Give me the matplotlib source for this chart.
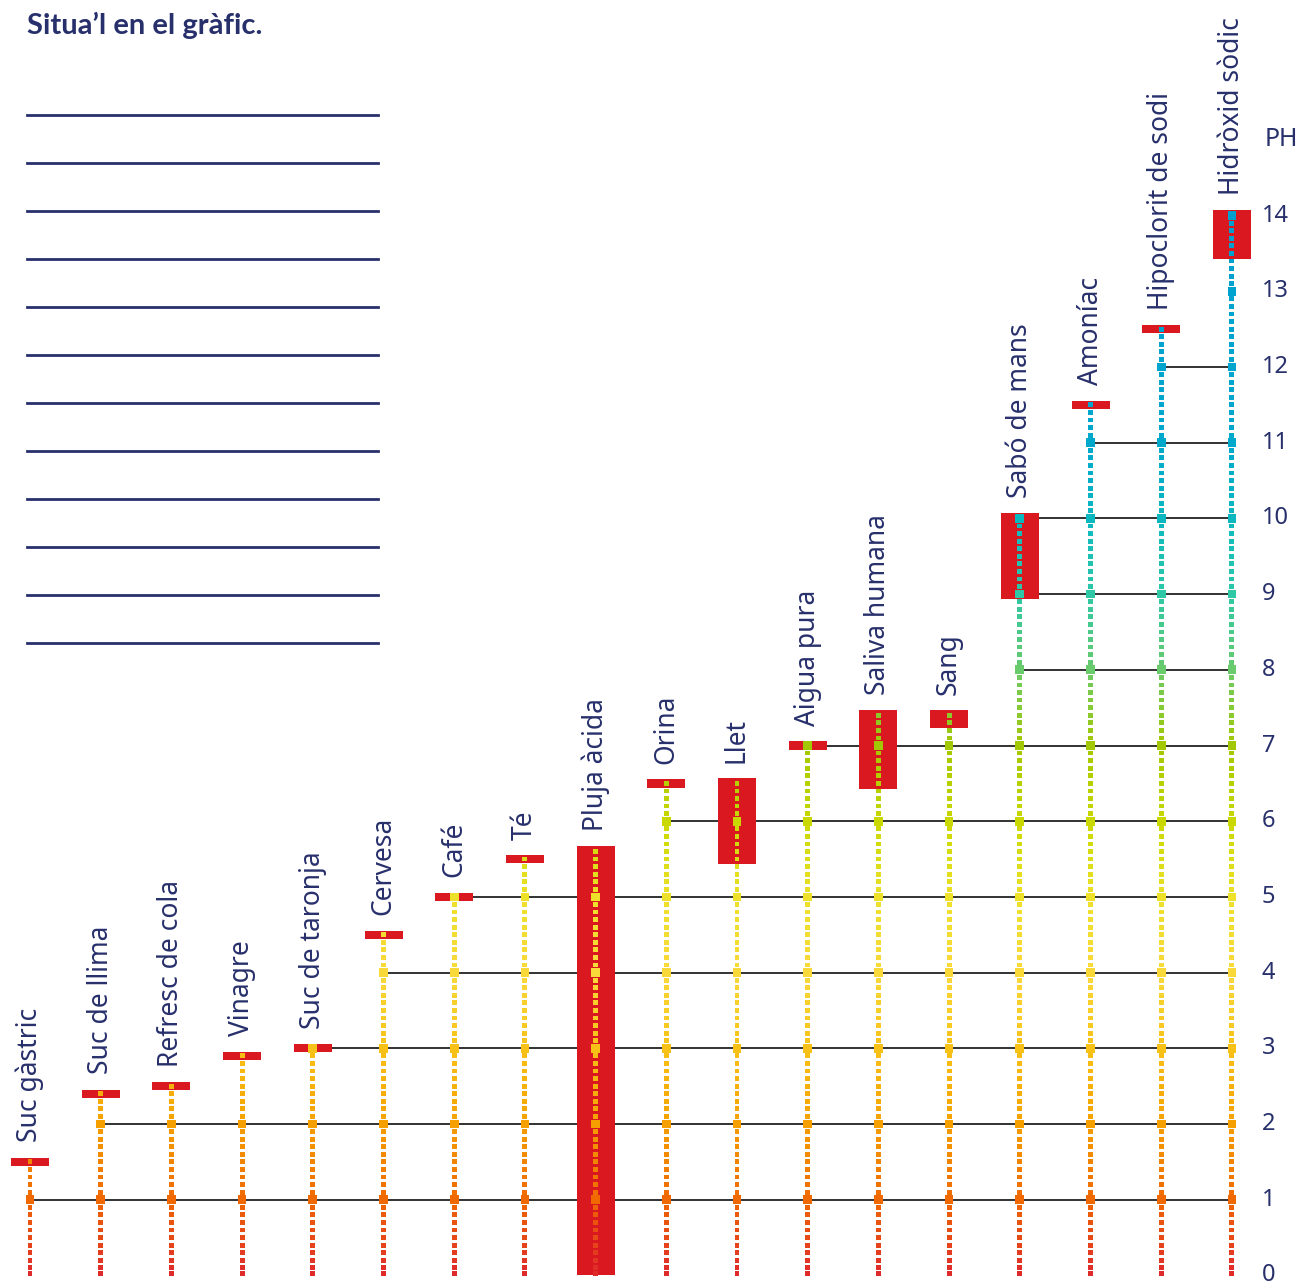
import numpy as np
import matplotlib
matplotlib.use("Agg")
import matplotlib.pyplot as plt
from matplotlib.colors import LinearSegmentedColormap
from matplotlib.patches import Rectangle

# ---------------- data ----------------
substances = ["Suc gàstric", "Suc de llima", "Refresc de cola", "Vinagre",
              "Suc de taronja", "Cervesa", "Café", "Té", "Pluja àcida",
              "Orina", "Llet", "Aigua pura", "Saliva humana", "Sang",
              "Sabó de mans", "Amoníac", "Hipoclorit de sodi", "Hidròxid sòdic"]
ph_min = [1.5, 2.4, 2.5, 2.9, 3.0, 4.5, 5.0, 5.5, 0.0, 6.5, 5.5, 7.0, 6.5, 7.3,
          9.0, 11.5, 12.5, 13.5]
ph_max = [1.5, 2.4, 2.5, 2.9, 3.0, 4.5, 5.0, 5.5, 5.6, 6.5, 6.5, 7.0, 7.4, 7.4,
          10.0, 11.5, 12.5, 14.0]
ph_ticks = list(range(0, 15))
title = "Situa’l en el gràfic."
axis_title = "PH"

# colour scale along the pH axis
scale_ph = [0, 1, 2, 3, 4, 5, 6, 7, 8, 9, 10, 11, 14]
scale_col = ["#e02a2a", "#ef6a00", "#f5a100", "#f7c218", "#f9d93a", "#ede12a",
             "#c9d800", "#a3c800", "#6acb6a", "#2ec8a6", "#0cb8c0", "#00a8cc",
             "#009fd0"]

NAVY = "#27306b"
RED = "#d9181f"
FONT = "Noto Sans"

W, H = 1303, 1285
fig = plt.figure(figsize=(W / 100, H / 100), dpi=100)
ax = fig.add_axes([0, 0, 1, 1])
ax.set_axis_off()

# pixel mapping (layout)
px_per_ph = 75.7
y0_px = 1275.4           # pixel row of pH 0 (from top)
x0_px, dx_px = 30, 70.7  # first column and spacing
ax.set_ylim(-(H - y0_px) / px_per_ph, y0_px / px_per_ph)
ax.set_xlim(-x0_px / dx_px, (W - x0_px) / dx_px)

cmap = LinearSegmentedColormap.from_list(
    "ph", [(p / 14, c) for p, c in zip(scale_ph, scale_col)])

n = len(substances)
xs = np.arange(n)

def bar_pad(i):
    return 0.055 if ph_max[i] - ph_min[i] < 0.05 else 0.07

# horizontal grid lines at integer pH
for k in ph_ticks[1:]:
    reach = [i for i in range(n) if ph_max[i] >= k]
    if len(reach) >= 2:
        ax.plot([reach[0], reach[-1]], [k, k], color="#222222", lw=1.3, zorder=1)

# red bars
bar_w = 38 / dx_px
for i in range(n):
    pad = bar_pad(i)
    lo = ph_min[i] - pad if ph_min[i] > 0 else 0.0
    hi = ph_max[i] + pad
    ax.add_patch(Rectangle((xs[i] - bar_w / 2, lo), bar_w, hi - lo,
                           facecolor=RED, edgecolor="none", zorder=2))

# dotted coloured lines with markers
for i in range(n):
    steps = np.arange(0, int(round(ph_max[i] * 10)) + 1) / 10.0
    small = steps[np.abs(steps - np.round(steps)) > 1e-6]
    big = steps[np.abs(steps - np.round(steps)) <= 1e-6]
    big = big[big > 0]
    ax.scatter(np.full(len(small), xs[i]), small, s=12, marker="s",
               c=cmap(small / 14), edgecolors="none", zorder=3)
    ax.scatter([xs[i]], [0.03], s=12, marker="s", c=[cmap(0.0)],
               edgecolors="none", zorder=3)
    ax.scatter(np.full(len(big), xs[i]), big, s=40, marker="s",
               c=cmap(big / 14), edgecolors="none", zorder=4)

# substance labels
for i in range(n):
    ax.annotate(substances[i], (xs[i], ph_max[i] + bar_pad(i)), xytext=(0, 11),
                textcoords="offset points", rotation=90, ha="center",
                va="bottom", color=NAVY, fontsize=19, family=FONT)

# right side pH labels
lab_x = (1262 - x0_px) / dx_px
for k in ph_ticks:
    ax.text(lab_x, k, str(k), ha="left", va="center", color=NAVY,
            fontsize=17, family=FONT)
ax.text(lab_x + 3 / dx_px, 15.0, axis_title, ha="left", va="center",
        color=NAVY, fontsize=18, family=FONT)

# title and answer lines (page decoration)
fig.text(27 / W, 1 - 25 / H, title, ha="left", va="center", color=NAVY,
         fontsize=21, fontweight="bold", family="Lato")
for j in range(12):
    y = 1 - (115 + 48 * j) / H
    fig.add_artist(plt.Line2D([27 / W, 378 / W], [y, y], color=NAVY, lw=2.0))

fig.savefig("out.png", dpi=100)
